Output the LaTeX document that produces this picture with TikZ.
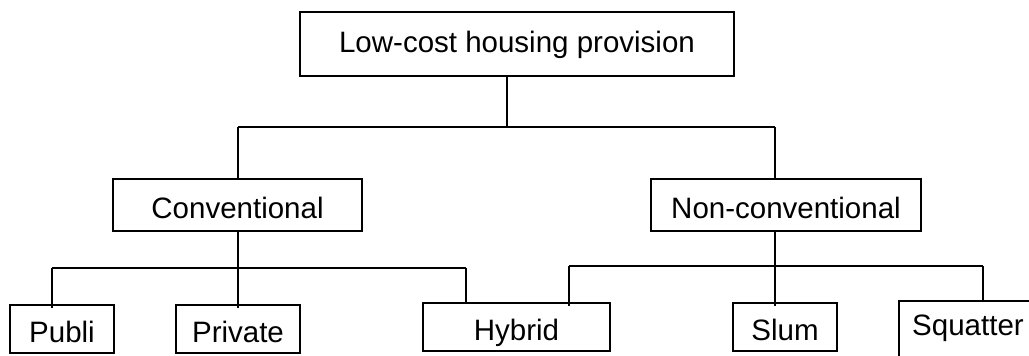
\documentclass[tikz,border=0pt]{standalone}
\usepackage{fontspec}
\setmainfont{Liberation Sans}
\begin{document}
\begin{tikzpicture}[x=1pt,y=-1pt,
  box/.style={draw,line width=1.3pt,inner sep=0pt,font=\fontsize{29.5}{34}\selectfont,
    text height=27pt,text depth=0pt},
  conn/.style={line width=1.3pt}]
\useasboundingbox (0,0) rectangle (1029,356);
\clip (0,0) rectangle (1029,356);
\node[box,minimum width=434pt,minimum height=64pt,text height=21pt,text depth=5pt] (top) at (517,44) {Low-cost housing provision};
\node[box,minimum width=249pt,minimum height=52pt,text height=26pt] (conv) at (237.5,205) {Conventional};
\node[box,minimum width=270pt,minimum height=52pt,text height=26pt] (nonconv) at (786,205) {Non-conventional};
\node[box,minimum width=104pt,minimum height=48pt] (publi) at (62,329) {Publi};
\node[box,minimum width=124pt,minimum height=48pt] (private) at (238,329) {Private};
\node[box,minimum width=187pt,minimum height=48pt] (hybrid) at (516.5,327) {Hybrid};
\node[box,minimum width=104pt,minimum height=48pt] (slum) at (785,327) {Slum};
\node[box,minimum width=138pt,minimum height=58pt,text height=21pt,text depth=10pt] (squatter) at (968,330) {Squatter};
% junctions
\coordinate (j1) at (507,127);
\coordinate (jl) at (238,127);
\coordinate (jr) at (775,127);
\coordinate (c1) at (238,268);
\coordinate (cl) at (52,268);
\coordinate (cr) at (466,268);
\coordinate (n1) at (775,266);
\coordinate (nl) at (569,266);
\coordinate (nr) at (983,266);
% top level
\draw[conn] (top.south -| j1) -- (j1);
\draw[conn] (jl) -- (jr);
\draw[conn] (jl) -- (conv.north -| jl);
\draw[conn] (jr) -- (nonconv.north -| jr);
% conventional branch
\draw[conn] (conv.south -| c1) -- ([yshift=-4pt]private.north -| c1);
\draw[conn] (cl) -- (cr);
\draw[conn] (cl) -- ([yshift=-4pt]publi.north -| cl);
\draw[conn] (cr) -- ([yshift=-1pt]hybrid.north -| cr);
% non-conventional branch
\draw[conn] (nonconv.south -| n1) -- ([yshift=-4pt]slum.north -| n1);
\draw[conn] (nl) -- (nr);
\draw[conn] (nl) -- ([yshift=-4pt]hybrid.north -| nl);
\draw[conn] (nr) -- ([yshift=-2pt]squatter.north -| nr);
\end{tikzpicture}
\end{document}
